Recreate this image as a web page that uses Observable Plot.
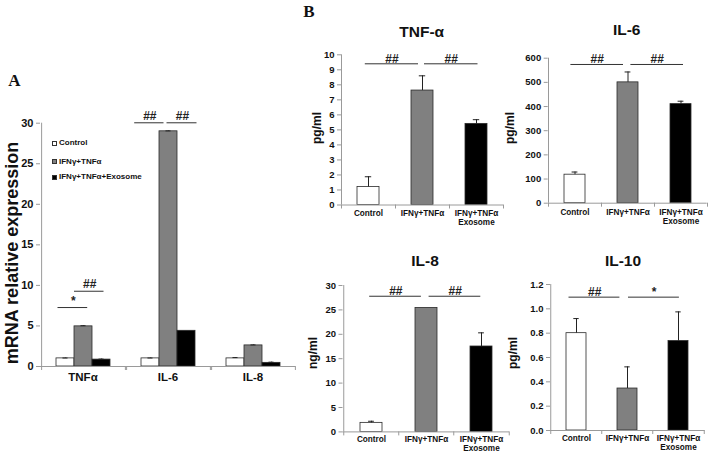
<!DOCTYPE html>
<html><head><meta charset="utf-8">
<script src="https://cdn.jsdelivr.net/npm/d3@7"></script>
<script src="https://cdn.jsdelivr.net/npm/@observablehq/plot@0.6"></script>
<style>
body{margin:0;background:#fff;}
#fig{position:relative;width:708px;height:454px;overflow:hidden;font-family:"Liberation Sans",Arial,sans-serif;color:#111;}
.pw{position:absolute;}
.pw svg{overflow:visible;background:transparent;}
.lbl{position:absolute;font-weight:bold;white-space:nowrap;line-height:1;transform:translate(-50%,-50%);}
.rot{transform:translate(-50%,-50%) rotate(-90deg);}
.leg{position:absolute;font-weight:bold;font-size:8px;white-space:nowrap;line-height:1;display:flex;align-items:center;}
.sw{display:inline-block;width:5px;height:5px;border:0.8px solid #333;margin-right:2px;box-sizing:border-box;}
</style></head><body><div id="fig"></div>
<script>
// ---------- shared ----------
const conditions = ["Control", "IFNγ+TNFα", "IFNγ+TNFα+Exosome"];
const conditionTicks = ["Control", "IFNγ+TNFα", "IFNγ+TNFα\nExosome"];
const conditionColors = ["#ffffff", "#808080", "#000000"];

// ---------- panel A : mRNA relative expression ----------
const genesA = ["TNFα", "IL-6", "IL-8"];
const mrnaControl = [1.0, 1.0, 1.0];
const mrnaIFN = [4.95, 29.0, 2.6];
const mrnaExo = [0.85, 4.4, 0.45];
const mrnaErrControl = [0.05, 0.05, 0.1];
const mrnaErrIFN = [0.08, 0.05, 0.06];
const mrnaErrExo = [0.06, 0.0, 0.08];
const ticksA = [0, 5, 10, 15, 20, 25, 30];
const sigA = [
  {gene: "TNFα", from: 0, to: 1, level: 7.27, label: "*"},
  {gene: "TNFα", from: 1, to: 2, level: 9.28, label: "##"},
  {gene: "IL-6", from: 0, to: 1, level: 30.05, label: "##"},
  {gene: "IL-6", from: 1, to: 2, level: 30.05, label: "##"}
];

// ---------- panel B : cytokine secretion ----------
const tnfMean = [1.2, 7.62, 5.4];
const tnfErr = [0.68, 0.98, 0.28];
const il6Mean = [118, 500, 410];
const il6Err = [11, 43, 12];
const il8Mean = [1.85, 25.4, 17.5];
const il8Err = [0.33, 0, 2.8];
const il10Mean = [0.80, 0.345, 0.735];
const il10Err = [0.12, 0.178, 0.24];
const ticksTNF = [0, 1, 2, 3, 4, 5, 6, 7, 8, 9, 10];
const ticksIL6 = [0, 100, 200, 300, 400, 500, 600];
const ticksIL8 = [0, 5, 10, 15, 20, 25, 30];
const ticksIL10 = [0, 0.2, 0.4, 0.6, 0.8, 1.0, 1.2];
const sigTNF = [{from: 0, to: 1, level: 9.4, label: "##"}, {from: 1, to: 2, level: 9.4, label: "##"}];
const sigIL6 = [{from: 0, to: 1, level: 574, label: "##"}, {from: 1, to: 2, level: 574, label: "##"}];
const sigIL8 = [{from: 0, to: 1, level: 27.8, label: "##"}, {from: 1, to: 2, level: 27.8, label: "##"}];
const sigIL10 = [{from: 0, to: 1, level: 1.096, label: "##"}, {from: 1, to: 2, level: 1.096, label: "*"}];

// ---------- styles ----------
const axisColor = "#9a9a9a";
const barStroke = "#2a2a2a";
const fig = document.getElementById("fig");
const tickLabel = new Map(conditions.map((c, i) => [c, conditionTicks[i]]));
const colorScale = {domain: conditions, range: conditionColors};

function place(el, left, top) {
  const w = document.createElement("div");
  w.className = "pw";
  w.style.left = left + "px";
  w.style.top = top + "px";
  w.appendChild(el);
  fig.appendChild(w);
}
function label(text, x, y, size, extra = "", cls = "lbl") {
  const d = document.createElement("div");
  d.className = cls;
  d.textContent = text;
  d.style.left = x + "px";
  d.style.top = y + "px";
  d.style.fontSize = size + "px";
  if (extra) d.style.cssText += extra;
  fig.appendChild(d);
}

// ---------- panel A ----------
{
  const W = 300, H = 454, ml = 39, mr = 4, mt = 122.7, mb = 88;
  const pO = 0.76;
  const facetW = (W - ml - mr) / genesA.length;
  const bw = facetW / (conditions.length + 2 * pO);
  const edge = bw * (pO + 0.5);
  const plotH = H - mt - mb;
  const means = [mrnaControl, mrnaIFN, mrnaExo];
  const errs = [mrnaErrControl, mrnaErrIFN, mrnaErrExo];
  const data = genesA.flatMap((g, gi) => conditions.map((c, ci) => ({
    gene: g, cond: c, mean: means[ci][gi], err: errs[ci][gi], hi: means[ci][gi] + errs[ci][gi]
  })));
  const eb = data.filter(d => d.err > 0);
  const sigInsets = [[1.5, 4.8], [0, 6.5], [-6.8, 13.5], [7.5, -1.5]];
  const sigMarks = sigA.flatMap((s, i) => {
    const [L, R] = sigInsets[i];
    return [
      Plot.ruleY([s], {fx: d => d.gene, x1: d => conditions[d.from], x2: d => conditions[d.to], y: "level",
        insetLeft: L, insetRight: R, stroke: "#333", strokeWidth: 1}),
      Plot.text([s], {fx: d => d.gene, x: d => conditions[d.from], y: "level", text: "label",
        dx: (bw * (s.to - s.from) + L - R) / 2, dy: -3, lineAnchor: "bottom",
        fontSize: 12, fontWeight: "bold", fill: "#222"})
    ];
  });
  const p = Plot.plot({
    width: W, height: H, marginLeft: ml, marginRight: mr, marginTop: mt, marginBottom: mb,
    style: {background: "transparent", overflow: "visible", fontFamily: "Liberation Sans, Arial, sans-serif"},
    fx: {domain: genesA, padding: 0},
    x: {domain: conditions, paddingInner: 0, paddingOuter: pO, axis: null},
    y: {domain: [0, 30]},
    color: colorScale,
    marks: [
      Plot.barY(data, {fx: "gene", x: "cond", y: "mean", fill: "cond", stroke: barStroke, strokeWidth: 0.8}),
      Plot.ruleX(eb, {fx: "gene", x: "cond", y1: "mean", y2: "hi", stroke: "#222"}),
      Plot.tickY(eb, {fx: "gene", x: "cond", y: "hi", stroke: "#222", insetLeft: (bw - 6) / 2, insetRight: (bw - 6) / 2}),
      Plot.ruleY([0], {stroke: axisColor, strokeWidth: 1}),
      Plot.ruleX(genesA.slice(0, 1), {fx: d => d, x: () => conditions[0], dx: -edge, stroke: axisColor}),
      Plot.ruleX(genesA, {fx: d => d, x: () => conditions[0], dx: -edge, insetTop: plotH, insetBottom: -4, stroke: axisColor}),
      Plot.ruleX(genesA, {fx: d => d, x: () => conditions[2], dx: edge, insetTop: plotH, insetBottom: -4, stroke: axisColor}),
      Plot.axisY({ticks: ticksA, tickSize: 4, tickPadding: 3, stroke: axisColor, fill: "#111",
        fontSize: 11, fontWeight: "bold", label: null}),
      Plot.axisFx({anchor: "bottom", tickSize: 0, tickPadding: 6, label: null,
        fontSize: 11.5, fontWeight: "bold", fill: "#111"}),
      ...sigMarks
    ]
  });
  place(p, 0, 0);
}

// ---------- panel B ----------
function barPlot(o) {
  const {means, errs, ticks, sig, insets, left, top, W, H, ml, mr, mt, mb, ymax, fmt, pad} = o;
  const pI = 0.6, pO = 0.3;
  const step = (W - ml - mr) / conditions.length;
  const bw = step * (1 - pI);
  const plotH = H - mt - mb;
  const data = conditions.map((c, i) => ({cond: c, mean: means[i], err: errs[i], hi: means[i] + errs[i]}));
  const eb = data.filter(d => d.err > 0);
  const sigMarks = sig.flatMap((s, i) => {
    const [L, R] = insets[i];
    return [
      Plot.ruleY([s], {x1: d => conditions[d.from], x2: d => conditions[d.to], y: "level",
        insetLeft: L, insetRight: R, stroke: "#333", strokeWidth: 1}),
      Plot.text([s], {x: d => conditions[d.from], y: "level", text: "label",
        dx: (step * (s.to - s.from) + L - R) / 2, dy: -1, lineAnchor: "bottom",
        fontSize: 12, fontWeight: "bold", fill: "#222"})
    ];
  });
  const p = Plot.plot({
    width: W, height: H, marginLeft: ml, marginRight: mr, marginTop: mt, marginBottom: mb,
    style: {background: "transparent", overflow: "visible", fontFamily: "Liberation Sans, Arial, sans-serif"},
    x: {domain: conditions, paddingInner: pI, paddingOuter: pO},
    y: {domain: [0, ymax]},
    color: colorScale,
    marks: [
      Plot.barY(data, {x: "cond", y: "mean", fill: "cond", stroke: barStroke, strokeWidth: 0.8}),
      Plot.ruleX(eb, {x: "cond", y1: "mean", y2: "hi", stroke: "#222"}),
      Plot.tickY(eb, {x: "cond", y: "hi", stroke: "#222", insetLeft: (bw - 6) / 2, insetRight: (bw - 6) / 2}),
      Plot.ruleY([0], {stroke: axisColor}),
      Plot.ruleX(conditions.slice(0, 1), {x: d => d, dx: -step / 2, stroke: axisColor}),
      Plot.ruleX(conditions, {x: d => d, dx: -step / 2, insetTop: plotH, insetBottom: -4, stroke: axisColor}),
      Plot.ruleX(conditions.slice(-1), {x: d => d, dx: step / 2, insetTop: plotH, insetBottom: -4, stroke: axisColor}),
      Plot.axisY({ticks, tickFormat: fmt, tickSize: 4, tickPadding: 3, stroke: axisColor, fill: "#111",
        fontSize: 9.5, fontWeight: "bold", label: null}),
      Plot.axisX({tickSize: 0, tickPadding: pad, tickFormat: d => tickLabel.get(d), label: null,
        fontSize: 8.2, lineHeight: 1.1, fontWeight: "bold", fill: "#111"}),
      ...sigMarks
    ]
  });
  place(p, left, top);
}

barPlot({means: tnfMean, errs: tnfErr, ticks: ticksTNF, sig: sigTNF, insets: [[7.8, 15], [13, 9.5]], pad: 5,
  left: 290, top: 40, W: 215, H: 200, ml: 51, mr: 2, mt: 14.3, mb: 35.5, ymax: 10, fmt: d3.format("d")});
barPlot({means: il6Mean, errs: il6Err, ticks: ticksIL6, sig: sigIL6, insets: [[6.4, 15], [13.4, 8]], pad: 5,
  left: 500, top: 40, W: 208, H: 200, ml: 47.7, mr: 1.3, mt: 17.7, mb: 37.3, ymax: 600, fmt: d3.format("d")});
barPlot({means: il8Mean, errs: il8Err, ticks: ticksIL8, sig: sigIL8, insets: [[9.2, 16.1], [13.6, 11.7]], pad: 3.5,
  left: 290, top: 240, W: 222, H: 214, ml: 52.5, mr: 3, mt: 45, mb: 22.6, ymax: 30, fmt: d3.format("d")});
barPlot({means: il10Mean, errs: il10Err, ticks: ticksIL10, sig: sigIL10, insets: [[2.5, 17.6], [11, 9.1]], pad: 4,
  left: 500, top: 240, W: 208, H: 214, ml: 50, mr: 3.5, mt: 44, mb: 24, ymax: 1.2, fmt: d3.format(".1f")});

// ---------- text labels ----------
label("A", 14.5, 80, 17, "font-family:'Liberation Serif',serif;");
label("B", 309, 10.5, 17, "font-family:'Liberation Serif',serif;");
label("mRNA relative expression", 12, 253, 18, "", "lbl rot");
label("TNF-α", 421.7, 32, 15.5);
label("IL-6", 626.7, 30, 15.5);
label("IL-8", 425, 260.7, 15.5);
label("IL-10", 623, 260.7, 15.5);
label("pg/ml", 316.7, 128, 12, "", "lbl rot");
label("pg/ml", 510, 128, 12, "", "lbl rot");
label("ng/ml", 313.3, 353, 12, "", "lbl rot");
label("pg/ml", 513, 353, 12, "", "lbl rot");

// legend (panel A)
const legendY = [143.3, 161.5, 177.3];
conditions.forEach((c, i) => {
  const d = document.createElement("div");
  d.className = "leg";
  d.style.left = "52px";
  d.style.top = (legendY[i] - 4) + "px";
  d.style.height = "8px";
  const sw = document.createElement("span");
  sw.className = "sw";
  sw.style.background = conditionColors[i];
  d.appendChild(sw);
  d.appendChild(document.createTextNode(c));
  fig.appendChild(d);
});
</script></body></html>
